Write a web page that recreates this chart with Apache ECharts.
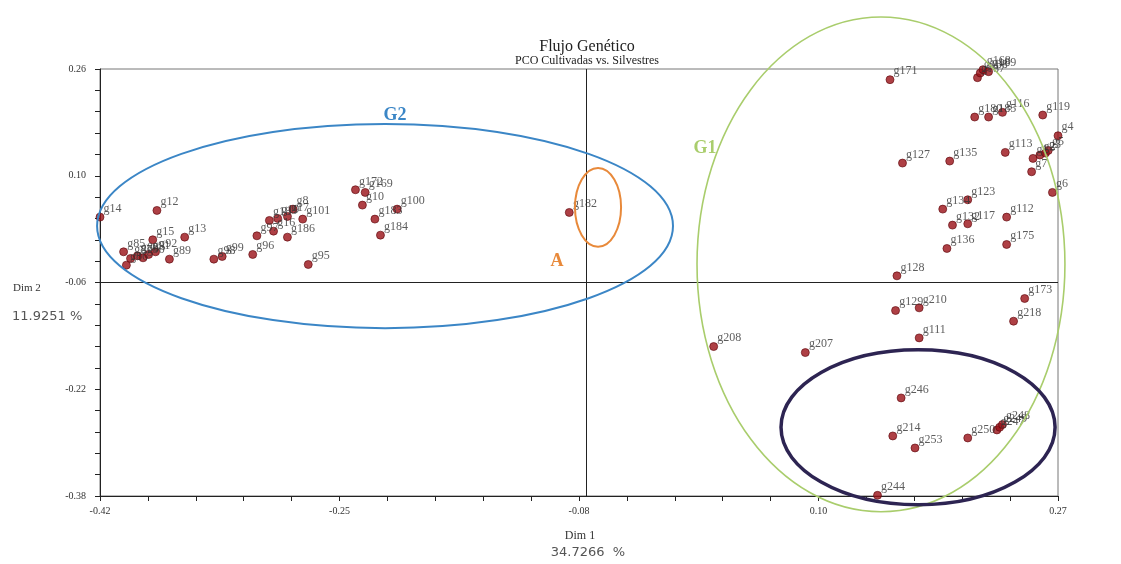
<!DOCTYPE html>
<html>
<head>
<meta charset="utf-8">
<script src="https://cdn.jsdelivr.net/npm/echarts@6/dist/echarts.min.js"></script>
<style>
  html, body { margin: 0; padding: 0; background: #ffffff; }
  #chart { width: 1121px; height: 564px; }
</style>
</head>
<body>
<div id="chart"></div>
<script>
// Accession labels and their PCO scores (Dim 1, Dim 2)
const accessions = [
  'g14','g12','g15','g13','g85','g86','g87','g88','g90','g91','g92','g89',
  'g98','g99','g96','g97','g18','g19','g17','g8','g16','g186','g101','g95',
  'g172','g169','g10','g100','g183','g184','g182',
  'g171','g187','g188','g168','g189','g180','g185','g116','g119','g4','g113',
  'g1','g2','g3','g5','g7','g127','g135','g6','g123','g134','g132','g117',
  'g112','g136','g175','g128','g129','g210','g111','g173','g218','g208','g207',
  'g246','g214','g253','g250','g247','g249','g248','g244'
];
const dim1 = [
  -0.420,-0.379,-0.382,-0.359,-0.403,-0.401,-0.398,-0.393,-0.389,-0.385,-0.380,-0.370,
  -0.338,-0.332,-0.310,-0.307,-0.298,-0.292,-0.285,-0.281,-0.295,-0.285,-0.274,-0.270,
  -0.236,-0.229,-0.231,-0.206,-0.222,-0.218,-0.082,
  0.149,0.212,0.214,0.216,0.220,0.210,0.220,0.230,0.259,0.270,0.232,
  0.252,0.257,0.261,0.263,0.251,0.158,0.192,0.266,0.205,0.187,0.194,0.205,
  0.233,0.190,0.233,0.154,0.153,0.170,0.170,0.246,0.238,0.022,0.088,
  0.157,0.151,0.167,0.205,0.226,0.228,0.230,0.140
];
const dim2 = [
  0.038,0.048,0.004,0.008,-0.014,-0.034,-0.024,-0.020,-0.023,-0.018,-0.014,-0.025,
  -0.025,-0.021,-0.018,0.010,0.033,0.036,0.039,0.050,0.017,0.008,0.035,-0.033,
  0.079,0.075,0.056,0.050,0.035,0.011,0.045,
  0.244,0.247,0.254,0.259,0.256,0.188,0.188,0.195,0.191,0.160,0.135,
  0.126,0.131,0.134,0.138,0.106,0.119,0.122,0.075,0.064,0.050,0.026,0.028,
  0.038,-0.009,-0.003,-0.050,-0.102,-0.098,-0.143,-0.084,-0.118,-0.156,-0.165,
  -0.233,-0.290,-0.308,-0.293,-0.281,-0.277,-0.273,-0.379
];

// Axis ticks and their printed labels
const xTickValues = [-0.42, -0.2475, -0.075, 0.0975, 0.27];
const xTickLabels = ['-0.42', '-0.25', '-0.08', '0.10', '0.27'];
const yTickValues = [-0.38, -0.22, -0.06, 0.10, 0.26];
const yTickLabels = ['-0.38', '-0.22', '-0.06', '0.10', '0.26'];

// Group outlines: centre and radii in data units
const groupNames  = ['G2', 'A', 'G1', ''];
const groupCx     = [-0.2147, -0.0613, 0.1425, 0.1692];
const groupCy     = [0.0246, 0.0526, -0.0328, -0.2770];
const groupRx     = [0.2074, 0.0166, 0.1325, 0.0987];
const groupRy     = [0.1530, 0.0589, 0.3708, 0.1162];
const groupColors = ['#3b86c6', '#e8893a', '#a9cd6c', '#2d2452'];
const groupWidths = [2, 2, 1.6, 3.5];
const groupLabelX = [-0.2075, -0.0909, 0.0158, null];
const groupLabelY = [0.1908, -0.0284, 0.1408, null];

// Major ticks plus four minor ticks in each interval
function withMinor(majors) {
  const out = [];
  for (let i = 0; i < majors.length - 1; i++) {
    const step = (majors[i + 1] - majors[i]) / 5;
    for (let k = 0; k < 5; k++) out.push(majors[i] + step * k);
  }
  out.push(majors[majors.length - 1]);
  return out;
}
function labelFor(v, values, labels) {
  let best = 0;
  for (let i = 1; i < values.length; i++) {
    if (Math.abs(values[i] - v) < Math.abs(values[best] - v)) best = i;
  }
  return labels[best];
}

const points = accessions.map((n, i) => [dim1[i], dim2[i], n]);
const serif = '"Liberation Serif", "DejaVu Serif", serif';
const sans = '"DejaVu Sans", "Liberation Sans", sans-serif';

const chart = echarts.init(document.getElementById('chart'), null, { renderer: 'canvas' });

chart.setOption({
  animation: false,
  backgroundColor: '#ffffff',
  title: {
    text: 'Flujo Genético',
    subtext: 'PCO Cultivadas vs. Silvestres',
    left: 582,
    top: 34,
    textAlign: 'center',
    itemGap: 0,
    textStyle: { fontFamily: serif, fontSize: 16, fontWeight: 'normal', color: '#222' },
    subtextStyle: { fontFamily: serif, fontSize: 12, color: '#222' }
  },
  grid: {
    left: 100, right: 63, top: 69, bottom: 60,
    show: true, borderColor: '#777', borderWidth: 1, backgroundColor: 'transparent'
  },
  xAxis: {
    type: 'value',
    min: -0.42, max: 0.27,
    position: 'bottom',
    name: '{a|Dim 1}\n{b|34.7266  %}',
    nameLocation: 'middle',
    nameGap: 31,
    nameTextStyle: {
      rich: {
        a: { fontFamily: serif, fontSize: 12, color: '#333', lineHeight: 17, padding: [0, 0, 0, 2] },
        b: { fontFamily: sans, fontSize: 13, color: '#555', lineHeight: 17, padding: [0, 0, 0, 18] }
      }
    },
    axisLine: { show: true, onZero: false, lineStyle: { color: '#222', width: 1 } },
    axisTick: { show: true, customValues: withMinor(xTickValues), length: 5, lineStyle: { color: '#222' } },
    axisLabel: {
      customValues: xTickValues,
      formatter: v => labelFor(v, xTickValues, xTickLabels),
      fontFamily: serif, fontSize: 10, color: '#333', margin: 10
    },
    splitLine: { show: false }
  },
  yAxis: {
    type: 'value',
    min: -0.38, max: 0.26,
    axisLine: { show: true, onZero: false, lineStyle: { color: '#222', width: 1 } },
    axisTick: { show: true, customValues: withMinor(yTickValues), length: 5, lineStyle: { color: '#222' } },
    axisLabel: {
      customValues: yTickValues,
      formatter: v => labelFor(v, yTickValues, yTickLabels),
      fontFamily: serif, fontSize: 10, color: '#333', margin: 14
    },
    splitLine: { show: false }
  },
  series: [{
    type: 'scatter',
    data: points,
    symbol: 'circle',
    symbolSize: 8,
    itemStyle: { color: '#9a1016', borderColor: '#5e080c', borderWidth: 0.8 },
    label: {
      show: true,
      formatter: p => p.data[2],
      position: [8, -4],
      align: 'left',
      verticalAlign: 'middle',
      fontFamily: serif,
      fontSize: 12,
      color: '#333'
    },
    markLine: {
      silent: true,
      symbol: 'none',
      label: { show: false },
      lineStyle: { color: '#222', width: 1, type: 'solid' },
      data: [{ xAxis: -0.075 }, { yAxis: -0.06 }]
    },
    z: 3
  }]
});

// Group outlines and their names, placed from data coordinates
function drawGroups() {
  const elements = [];
  for (let i = 0; i < groupNames.length; i++) {
    const c = chart.convertToPixel({ gridIndex: 0 }, [groupCx[i], groupCy[i]]);
    const e = chart.convertToPixel({ gridIndex: 0 }, [groupCx[i] + groupRx[i], groupCy[i] + groupRy[i]]);
    elements.push({
      type: 'ellipse',
      silent: true,
      z: 5,
      shape: { cx: c[0], cy: c[1], rx: Math.abs(e[0] - c[0]), ry: Math.abs(c[1] - e[1]) },
      style: { fill: 'none', stroke: groupColors[i], lineWidth: groupWidths[i] }
    });
    if (groupNames[i] && groupLabelX[i] !== null) {
      const p = chart.convertToPixel({ gridIndex: 0 }, [groupLabelX[i], groupLabelY[i]]);
      elements.push({
        type: 'text',
        silent: true,
        z: 6,
        x: p[0], y: p[1],
        style: {
          text: groupNames[i],
          fill: groupColors[i],
          font: 'bold 18px ' + serif,
          align: 'center',
          verticalAlign: 'middle'
        }
      });
    }
  }
  // Second-dimension axis caption beside the -0.06 tick
  elements.push({
    type: 'text', silent: true, x: 13, y: 288,
    style: { text: 'Dim 2', fill: '#333', font: '11px ' + serif, verticalAlign: 'middle' }
  });
  elements.push({
    type: 'text', silent: true, x: 12, y: 317,
    style: { text: '11.9251 %', fill: '#555', font: '13px ' + sans, verticalAlign: 'middle' }
  });
  chart.setOption({ graphic: { elements: elements } });
}
drawGroups();
</script>
</body>
</html>
